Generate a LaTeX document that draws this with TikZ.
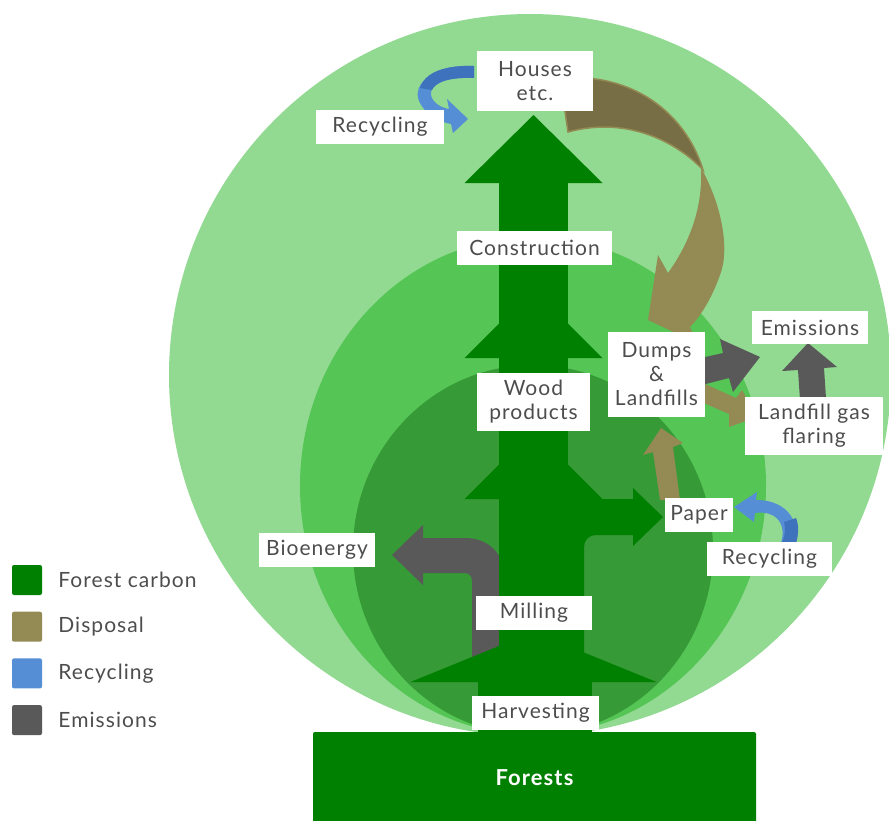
\documentclass[tikz,border=0pt]{standalone}
\usepackage{fontspec}
\setmainfont{Lato}[LetterSpace=5]
\usetikzlibrary{positioning}

\definecolor{forest}{HTML}{008000}
\definecolor{disposal}{HTML}{948A54}
\definecolor{dispdark}{HTML}{786E45}
\definecolor{recyc}{HTML}{558ED5}
\definecolor{recycdark}{HTML}{3F72BC}
\definecolor{emis}{HTML}{595959}
\definecolor{outerc}{HTML}{92DA91}
\definecolor{midc}{HTML}{55C555}
\definecolor{innerc}{HTML}{369A36}
\definecolor{txtgray}{HTML}{4D4D4D}

\begin{document}
\begin{tikzpicture}[x=1pt, y=-1pt,
    lbl/.style={fill=white, text=txtgray, inner sep=0pt, align=center, font=\fontsize{21}{24}\selectfont},
    legbox/.style={fill=#1, rounded corners=2pt, minimum size=30pt, inner sep=0pt},
    legtext/.style={text=txtgray, inner sep=0pt, font=\fontsize{21}{24}\selectfont}]

    \useasboundingbox (0,0) rectangle (889,820);

    % Nested circles
    \fill[outerc] (530,375) ellipse [x radius=361, y radius=361];
    \fill[midc] (533,486) ellipse [x radius=233, y radius=249];
    \fill[innerc] (533,550) ellipse [x radius=180, y radius=185];

    % Bioenergy (behind the trunk)
    \fill[emis] (472,660) -- (472,581) .. controls (472,576) and (469,573) .. (464,573)
        -- (423,573) -- (423,585) -- (392,555) -- (423,525) -- (423,538) -- (465,538)
        .. controls (490,538) and (505,555) .. (505,580) -- (505,660) -- cycle;

    % Trunk with tiers
    \fill[forest] (499,150) rectangle (568,690);
    \fill[forest] (464.5,183) -- (533.5,115) -- (602.5,183) -- cycle;
    \foreach \yb in {358,499} {
        \fill[forest] (464.5,\yb) -- (533.5,\yb-69) -- (602.5,\yb) -- cycle;
    }
    \fill[forest] (410.5,682) -- (533.5,632) -- (656.5,682) -- cycle;
    \fill[forest] (478,680) rectangle (592,740);

    % Branch to paper
    \fill[forest] (549,690) -- (549,519) .. controls (549,508) and (558,499) .. (569,499)
        -- (633,499) -- (633,488) -- (663,517) -- (633,546) -- (633,535) -- (596,535)
        .. controls (589,535) and (584,540) .. (584,547) -- (584,690) -- cycle;

    % Disposal from houses
    \fill[dispdark, draw=disposal, line width=1.5pt] (560,78) .. controls (640,72) and (688,120) .. (703,170)
        .. controls (680,145) and (630,115) .. (568,132) -- cycle;
    \fill[disposal] (701,168) .. controls (722,205) and (730,250) .. (720,275)
        .. controls (713,295) and (702,315) .. (690,327) -- (697,343) -- (648,320)
        -- (658,255) -- (668,273) .. controls (688,245) and (703,210) .. (701,168) -- cycle;

    % Small disposal arrows
    \fill[disposal] (660,500) -- (653,452) -- (643,455) -- (661,428) -- (683,443) -- (673,447) -- (680,500) -- cycle;
    \fill[disposal] (705,384) -- (736,398) -- (742,390) -- (757,417) -- (729,427) -- (729,414) -- (697,400) -- cycle;

    % Emissions
    \fill[emis] (692,360) -- (723,353) -- (720,339) -- (760,357) -- (733,392) -- (729,378) -- (698,386) -- cycle;
    \fill[emis] (800,400) -- (798,370) -- (782,371) -- (808,343) -- (837,367) -- (824,368) -- (826,398) -- cycle;

    % Recycling loops
    \fill[recyc] (474,66) .. controls (432,64) and (412,85) .. (419,101)
        .. controls (425,115) and (440,122) .. (451,124) -- (453,133) -- (468,119)
        -- (447,99) -- (449,109) .. controls (438,107) and (430,100) .. (431,92)
        .. controls (433,82) and (450,77) .. (474,78) -- cycle;
    \fill[recycdark] (474,66) .. controls (445,65) and (425,72) .. (420,88) -- (432,90)
        .. controls (436,81) and (452,77) .. (474,78) -- cycle;
    \fill[recyc] (780,546) -- (795,547) .. controls (801,525) and (790,500) .. (756,500)
        -- (757,492) -- (734,507) -- (754,522) -- (755,513)
        .. controls (777,510) and (788,525) .. (780,546) -- cycle;
    \fill[recycdark] (780,546) -- (795,547) .. controls (799,535) and (799,525) .. (796,518)
        -- (784,522) .. controls (786,530) and (785,538) .. (780,546) -- cycle;

    % Labels
    \node[lbl, minimum width=116pt, minimum height=60pt] (houses) at (535,81) {Houses\\etc.};
    \node[lbl, minimum width=128pt, minimum height=34pt] (recycA) at (380,127) {Recycling};
    \node[lbl, minimum width=155pt, minimum height=34pt] (constr) at (534.5,248) {Construction};
    \node[lbl, minimum width=113pt, minimum height=58pt] (wood) at (533.5,402) {Wood\\products};
    \node[lbl, minimum width=97pt, minimum height=85pt] (dumps) at (656.5,374.5) {Dumps\\\&\\Landfills};
    \node[lbl, minimum width=116pt, minimum height=33pt] (emisn) at (810,327.5) {Emissions};
    \node[lbl, minimum width=138pt, minimum height=58pt] (flaring) at (814,426) {Landfill gas\\flaring};
    \node[lbl, minimum width=68pt, minimum height=34pt] (paper) at (699,515) {Paper};
    \node[lbl, minimum width=125pt, minimum height=34pt] (recycB) at (769.5,559) {Recycling};
    \node[lbl, minimum width=116pt, minimum height=34pt] (bio) at (317,550) {Bioenergy};
    \node[lbl, minimum width=116pt, minimum height=34pt] (milling) at (534,613) {Milling};
    \node[lbl, minimum width=127pt, minimum height=34pt] (harvest) at (535.5,713) {Harvesting};
    \node[fill=forest, rounded corners=2pt, minimum width=443pt, minimum height=92pt, inner sep=0pt,
        text=white, font=\fontsize{22}{24}\selectfont\bfseries] (forests) at (534.5,778) {Forests};

    % Legend
    \foreach \c/\t [count=\i] in {forest/Forest carbon, disposal/Disposal, recyc/Recycling, emis/Emissions} {
        \node[legbox=\c] (leg\i) at (27,{580+46.7*(\i-1)}) {};
        \node[legtext, right=16pt of leg\i] (legt\i) {\t};
    }

\end{tikzpicture}
\end{document}
